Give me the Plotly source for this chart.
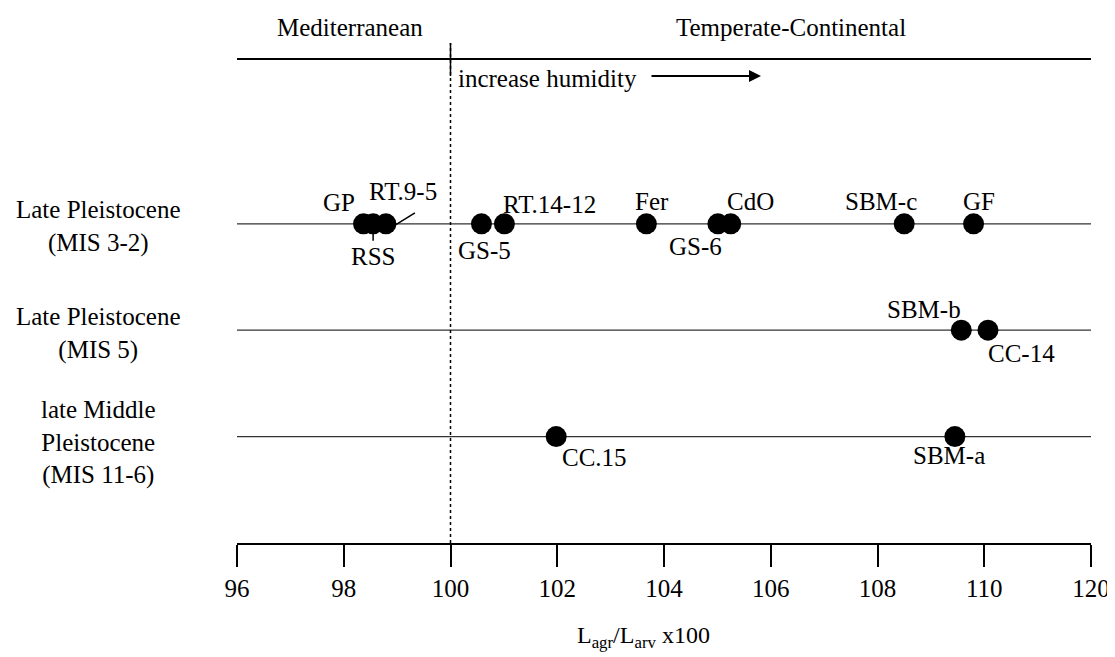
import plotly.graph_objects as go

# ---------------- data ----------------
row_names = ["Late Pleistocene<br>(MIS 3-2)", "Late Pleistocene<br>(MIS 5)",
             "late Middle<br>Pleistocene<br>(MIS 11-6)"]
row_levels = [3, 2, 1]

row1_sites = ["GP", "RSS", "RT.9-5", "GS-5", "RT.14-12", "Fer", "GS-6", "CdO", "SBM-c", "GF"]
row1_values = [98.37, 98.55, 98.79, 100.58, 101.01, 103.67, 105.01, 105.25, 108.50, 109.80]

row2_sites = ["SBM-b", "CC-14"]
row2_values = [109.57, 110.07]

row3_sites = ["CC.15", "SBM-a"]
row3_values = [101.98, 109.45]

tick_values = [96, 98, 100, 102, 104, 106, 108, 110, 112]
tick_labels = ["96", "98", "100", "102", "104", "106", "108", "110", "120"]

# ---------------- styling (pixel offsets of labels) ----------------
label_offsets = {
    "GP": (-25, 21), "RSS": (0, -33), "RT.9-5": (17, 32), "GS-5": (3, -27),
    "RT.14-12": (45, 19), "Fer": (6, 22), "GS-6": (-22, -23), "CdO": (20, 22),
    "SBM-c": (-23, 22), "GF": (5, 22), "SBM-b": (-37, 21), "CC-14": (34, -23),
    "SBM-a": (-6, -19), "CC.15": (38, -21),
}
row_name_shift = [-3, -3, -6]
leaders = {"RSS": (0, -9, 0, -17), "RT.9-5": (8, -2, 29, 11)}

FONT = "Liberation Serif"
FS = 25
OFF = 8                      # page body margin
W, H = 1115 - OFF, 657 - OFF
PLOT_L, PLOT_R, PLOT_T, PLOT_B = 237, 1091, 11, 543   # page pixels
ML, MR = PLOT_L - OFF, W - (PLOT_R - OFF)
MT, MB = PLOT_T - OFF, H - (PLOT_B - OFF)
plot_h = PLOT_B - PLOT_T
plot_w = PLOT_R - PLOT_L


def ydata(pix):
    # page pixel -> y data units (range 0..5)
    return (PLOT_B - pix) / plot_h * 5.0


def xpaper(pix):
    return (pix - PLOT_L) / plot_w


def ypaper(pix):
    return (PLOT_B - pix) / plot_h


fig = go.Figure()

rows = [(row1_sites, row1_values), (row2_sites, row2_values), (row3_sites, row3_values)]
annotations = []
shapes = []

for (sites, vals), lvl in zip(rows, row_levels):
    shapes.append(dict(type="line", xref="x", yref="y", x0=96, x1=112, y0=lvl, y1=lvl,
                       line=dict(color="#333333", width=1.3), layer="below"))
    fig.add_trace(go.Scatter(x=vals, y=[lvl] * len(vals), mode="markers",
                             marker=dict(color="black", size=21),
                             cliponaxis=False, showlegend=False, text=sites,
                             hoverinfo="text+x"))
    for s, v in zip(sites, vals):
        dx, dy = label_offsets[s]
        annotations.append(dict(x=v, y=lvl, xref="x", yref="y", text=s, showarrow=False,
                                xshift=dx, yshift=dy, xanchor="center", yanchor="middle",
                                font=dict(family=FONT, size=FS, color="black")))
        if s in leaders:
            x0, y0, x1, y1 = leaders[s]
            shapes.append(dict(type="line", xref="x", yref="y", xsizemode="pixel",
                               ysizemode="pixel", xanchor=v, yanchor=lvl,
                               x0=x0, y0=y0, x1=x1, y1=y1,
                               line=dict(color="black", width=1.5)))

# row names on the left
for name, lvl, sh in zip(row_names, row_levels, row_name_shift):
    annotations.append(dict(x=xpaper(98), xref="paper", y=lvl, yref="y",
                            text=name, showarrow=False, xanchor="center", yanchor="middle",
                            yshift=sh, align="center",
                            font=dict(family=FONT, size=FS, color="black")))

# dotted line at 100
shapes.append(dict(type="line", xref="x", yref="y", x0=100, x1=100, y0=0, y1=ydata(43),
                   line=dict(color="black", width=1.5, dash="dot")))
# top climate line and divider
shapes.append(dict(type="line", xref="x", yref="y", x0=96, x1=112, y0=ydata(59), y1=ydata(59),
                   line=dict(color="black", width=2)))
shapes.append(dict(type="line", xref="x", yref="y", x0=100, x1=100, y0=ydata(43), y1=ydata(76),
                   line=dict(color="black", width=1.5)))

annotations += [
    dict(x=xpaper(350), y=ydata(27), xref="paper", yref="y", text="Mediterranean",
         showarrow=False, xanchor="center", yanchor="middle",
         font=dict(family=FONT, size=FS, color="black")),
    dict(x=xpaper(791), y=ydata(27), xref="paper", yref="y", text="Temperate-Continental",
         showarrow=False, xanchor="center", yanchor="middle",
         font=dict(family=FONT, size=FS, color="black")),
    dict(x=xpaper(456), y=ydata(78), xref="paper", yref="y", text="increase humidity",
         showarrow=False, xanchor="left", yanchor="middle",
         font=dict(family=FONT, size=FS, color="black")),
    dict(x=xpaper(761), y=ydata(76), ax=-111, ay=0, xref="paper", yref="y",
         axref="pixel", ayref="pixel", text="", showarrow=True, arrowhead=2, arrowsize=1.2,
         arrowwidth=2, arrowcolor="black"),
    dict(x=xpaper(643), xref="paper", y=ypaper(637), yref="paper",
         text="L<sub>agr</sub>/L<sub>arv</sub> x100", showarrow=False, xanchor="center",
         yanchor="middle", font=dict(family=FONT, size=24, color="black")),
]

fig.update_layout(
    width=W, height=H,
    margin=dict(l=ML, r=MR, t=MT, b=MB),
    paper_bgcolor="white", plot_bgcolor="white",
    xaxis=dict(range=[96, 112], tickvals=tick_values, ticktext=tick_labels,
               showline=True, linecolor="black", linewidth=2, ticks="outside",
               ticklen=22, tickwidth=2, tickcolor="black", showgrid=False, zeroline=False,
               tickfont=dict(family=FONT, size=FS, color="black")),
    yaxis=dict(range=[0, 5], visible=False, showgrid=False, zeroline=False),
    shapes=shapes, annotations=annotations,
    showlegend=False,
)

fig.write_html("out.html")
